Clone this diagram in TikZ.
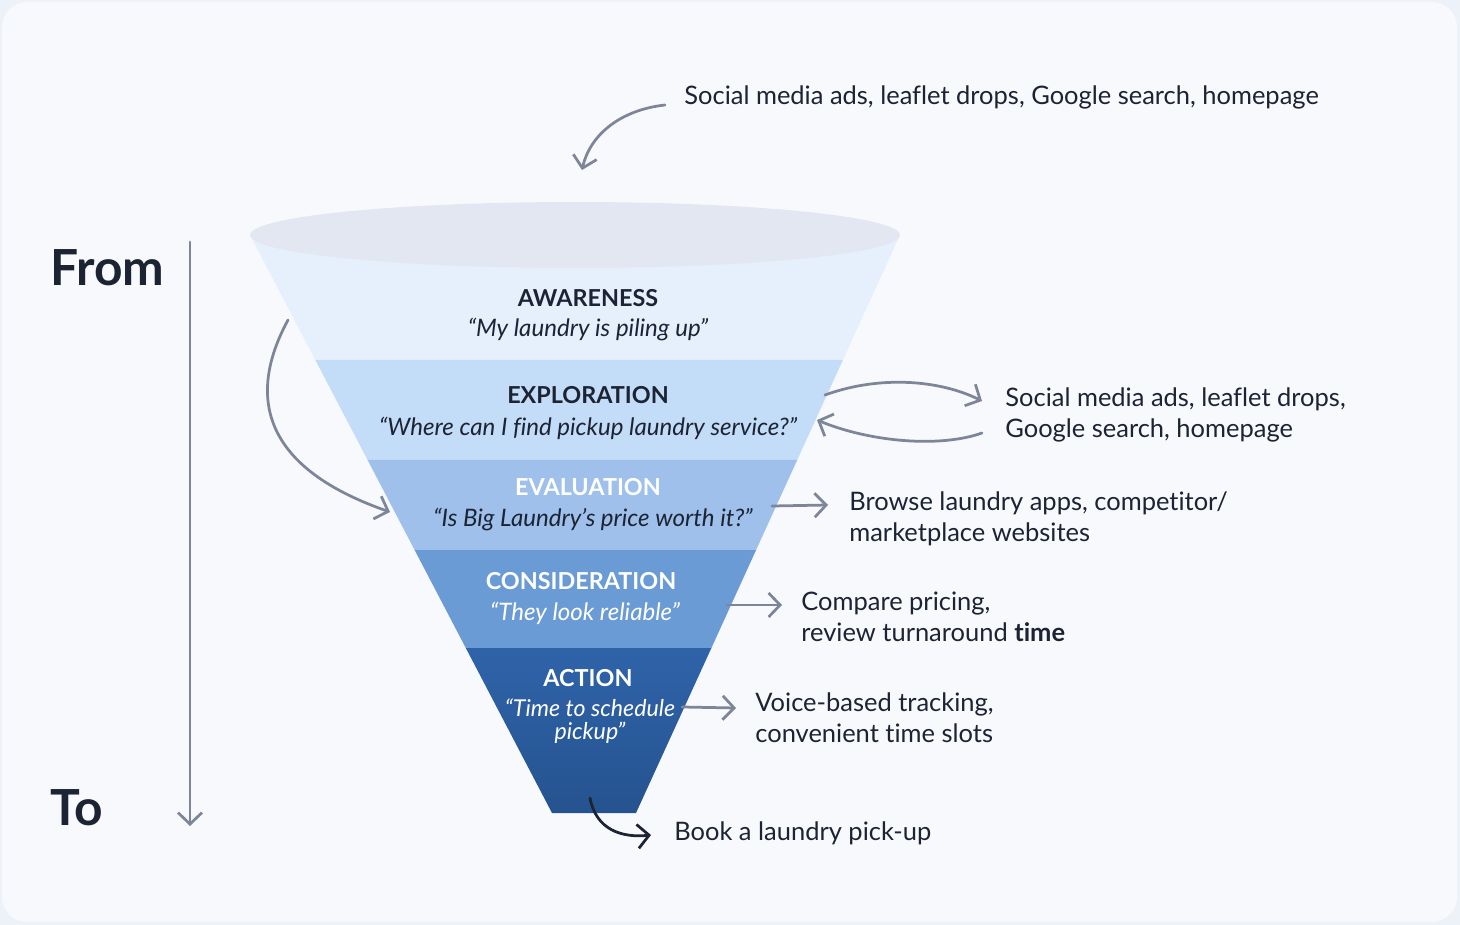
\documentclass[tikz,border=0pt]{standalone}
\usepackage{fontspec}
\setmainfont{Lato}[Ligatures=NoCommon]
\usetikzlibrary{arrows.meta}
\definecolor{bgout}{HTML}{EDF1F8}
\definecolor{bgin}{HTML}{F8F9FC}
\definecolor{txt}{HTML}{1C2333}
\definecolor{arr}{HTML}{7D8699}
\definecolor{rim}{HTML}{E2E7F1}
\definecolor{c1}{HTML}{E5F0FC}
\definecolor{c2}{HTML}{C3DCF7}
\definecolor{c3}{HTML}{9EC0EA}
\definecolor{c4}{HTML}{6A9BD4}
\definecolor{c5a}{HTML}{2F63A9}
\definecolor{c5b}{HTML}{25538F}
\tikzset{
  px/.style={x=0.02cm,y=-0.02cm},
  conn/.style={draw=arr,line width=0.55mm,line cap=round,-{Straight Barb[length=2.3mm,width=4.8mm,line width=0.55mm]}},
  darkconn/.style={draw=txt,line width=0.55mm,line cap=round,-{Straight Barb[length=2.3mm,width=4.8mm,line width=0.55mm]}},
  body/.style={font=\fontsize{14.5pt}{17.6pt}\selectfont,text=txt,anchor=west,align=left,inner sep=0pt},
  ttl/.style={font=\fontsize{13.3pt}{15pt}\selectfont\bfseries,inner sep=0pt},
  quote/.style={font=\fontsize{13.7pt}{13pt}\selectfont\itshape,inner sep=0pt,align=center},
  big/.style={font=\fontsize{28.3pt}{30pt}\selectfont\bfseries,text=txt,anchor=west,inner sep=0pt}
}
\begin{document}
\begin{tikzpicture}[px]
\useasboundingbox (0,0) rectangle (1460,925);
\fill[bgout] (0,0) rectangle (1460,925);
\fill[bgin,rounded corners=0.5cm] (2,2) rectangle (1457,922);
% funnel bands
\fill[c1] (250,235) -- (315.3,360) -- (842.9,360) -- (900,235) -- cycle;
\fill[c2] (315.3,360) -- (367.6,460) -- (797.2,460) -- (842.9,360) -- cycle;
\fill[c3] (367.6,460) -- (414.6,550) -- (756.1,550) -- (797.2,460) -- cycle;
\fill[c4] (414.6,550) -- (465.8,648) -- (711.4,648) -- (756.1,550) -- cycle;
\shade[top color=c5a,bottom color=c5b] (465.8,648) -- (552,813) -- (636,813) -- (711.4,648) -- cycle;
\fill[rim] (575,235) ellipse [x radius=6.5cm, y radius=0.66cm];
% funnel texts
\node[ttl,text=txt] (aw) at (588,298) {AWARENESS};
\node[quote,text=txt] (awq) at (588,330) {“My laundry is piling up”};
\node[ttl,text=txt] (ex) at (588,395) {EXPLORATION};
\node[quote,text=txt] (exq) at (588,428) {“Where can I find pickup laundry service?”};
\node[ttl,text=white] (ev) at (588,487) {EVALUATION};
\node[quote,text=txt] (evq) at (593,520) {“Is Big Laundry’s price worth it?”};
\node[ttl,text=white] (co) at (581,581) {CONSIDERATION};
\node[quote,text=white] (coq) at (585,613) {“They look reliable”};
\node[ttl,text=white] (ac) at (588,678) {ACTION};
\node[quote,text=white,font=\fontsize{13.2pt}{13.4pt}\selectfont\itshape] (acq) at (590,721) {“Time to schedule\\pickup”};
% side labels
\node[big] (from) at (50,268) {From};
\node[big] (to) at (50,808) {To};
\coordinate (vtop) at (190,242);
\coordinate (vbot) at (190,826);
\draw[conn] (vtop) -- (vbot);
% right texts
\node[body] (src) at (684,97) {Social media ads, leaflet drops, Google search, homepage};
\node[body] (expl) at (1005,415) {Social media ads, leaflet drops,\\Google search, homepage};
\node[body] (eval) at (849,519) {Browse laundry apps, competitor/\\marketplace websites};
\node[body] (cons) at (801,617) {Compare pricing,\\review turnaround \textbf{time}};
\node[body] (act) at (755,718) {Voice-based tracking,\\convenient time slots};
\node[body] (book) at (674,833) {Book a laundry pick-up};
% connectors
\coordinate (s1) at (665,105);
\coordinate (e1) at (582,170);
\draw[conn] (s1) .. controls (620,110) and (590,135) .. (e1);
\coordinate (s2) at (288,320);
\coordinate (e2) at (390,512);
\draw[conn] (s2) .. controls (250,390) and (255,465) .. (e2);
\coordinate (s3) at (825,395);
\coordinate (e3) at (982,401);
\draw[conn] (s3) .. controls (880,375) and (940,380) .. (e3);
\coordinate (s4) at (982,433);
\coordinate (e4) at (817,420);
\draw[conn] (s4) .. controls (940,448) and (870,442) .. (e4);
\coordinate (s5) at (772,506);
\coordinate (e5) at (828,505);
\draw[conn] (s5) -- (e5);
\coordinate (s6) at (727,605);
\coordinate (e6) at (782,605);
\draw[conn] (s6) -- (e6);
\coordinate (s7) at (682,707);
\coordinate (e7) at (736,708);
\draw[conn] (s7) -- (e7);
\coordinate (s8) at (590,798);
\coordinate (e8) at (651,835);
\draw[darkconn] (s8) .. controls (596,830) and (622,838) .. (e8);
\end{tikzpicture}
\end{document}
